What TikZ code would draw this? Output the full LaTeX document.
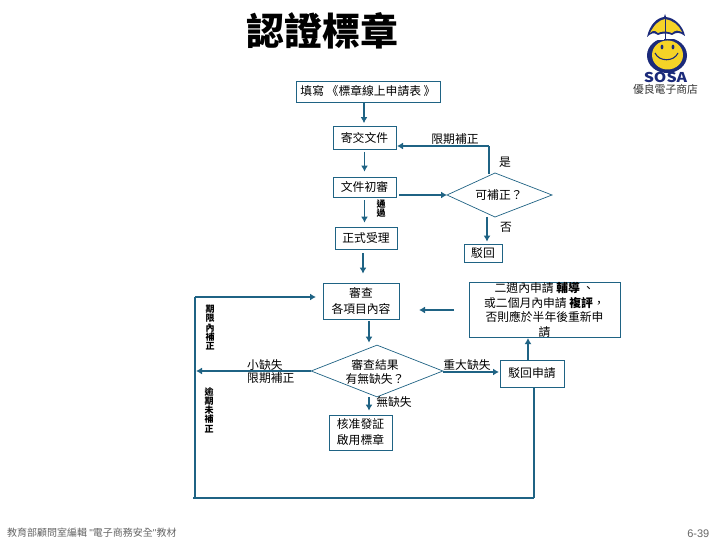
\documentclass[tikz,border=0pt]{standalone}
\usepackage{fontspec}
\setmainfont{Noto Sans CJK TC}
\newfontfamily\latinf{Liberation Sans}
\usetikzlibrary{shapes.geometric,arrows.meta}
\definecolor{flow}{HTML}{1F6384}
\definecolor{logoblue}{HTML}{1B2A7A}
\definecolor{logoyellow}{HTML}{F5D327}
\tikzset{
  flowbox/.style={draw=flow,line width=0.8pt,fill=white,inner sep=0pt,align=center,font=\fontsize{11.8}{16}\selectfont},
  decision/.style={draw=flow,line width=0.7pt},
  lbl/.style={inner sep=0pt,align=center,font=\fontsize{11.8}{13.5}\selectfont},
  vlbl/.style={inner sep=0pt,align=center,font=\fontsize{9}{9.3}\selectfont\bfseries,execute at begin node={\lineskiplimit=-30pt\relax}},
  conn/.style={draw=flow,line width=1.8pt,-{Latex[length=6pt,width=7pt]}},
  plain/.style={draw=flow,line width=1.8pt}
}
\begin{document}
\begin{tikzpicture}[x=1pt,y=-1pt]
\useasboundingbox (0,0) rectangle (720,540);
\fill[white] (0,0) rectangle (720,540);
% title
\node[inner sep=0pt,font=\fontsize{38}{40}\selectfont\bfseries] (title) at (322.5,31) {認證標章};
% boxes
\node[flowbox,minimum width=144pt,minimum height=21pt] (form) at (368,91.5) {填寫 《標章線上申請表 》};
\node[flowbox,minimum width=63pt,minimum height=23pt] (send) at (364.5,138) {寄交文件};
\node[flowbox,minimum width=63pt,minimum height=20pt] (check) at (364.5,187) {文件初審};
\node[flowbox,minimum width=62pt,minimum height=22pt] (accept) at (366,238) {正式受理};
\node[flowbox,minimum width=38pt,minimum height=18pt] (rej) at (483,253) {駁回};
\node[flowbox,minimum width=76pt,minimum height=36pt] (review) at (361,301) {審查\\各項目內容};
\node[flowbox,minimum width=63pt,minimum height=35pt] (ok) at (360.5,432.5) {核准發証\\啟用標章};
\node[flowbox,minimum width=151pt,minimum height=54pt,font=\fontsize{11.8}{14.7}\selectfont] (two) at (544.5,310) {二週內申請 \textbf{輔導} 、\\或二個月內申請 \textbf{複評}，\\否則應於半年後重新申\hspace*{11pt}\\請};
\node[flowbox,minimum width=64pt,minimum height=27pt] (rejapp) at (532,373.5) {駁回申請};
% decisions
\coordinate (q1w) at (447,195);
\coordinate (q1n) at (495,173);
\coordinate (q1e) at (552,195);
\coordinate (q1s) at (495,217);
\draw[decision] (q1w) -- (q1n) -- (q1e) -- (q1s) -- cycle;
\node[lbl] (q1) at (499,195) {可補正？};
\node[decision,diamond,aspect=2.54,minimum width=132pt,minimum height=52pt,inner sep=0pt] (q2) at (377,371) {};
\node[lbl] (q2t) at (375,372) {審查結果\\有無缺失？};
% coordinates
\coordinate (lt) at (195,297);
\coordinate (ltend) at (316,297);
\coordinate (lb) at (195,498);
\coordinate (lbx) at (193,498);
\coordinate (rb) at (534,498);
\coordinate (q1top) at (489,174);
\coordinate (q1turn) at (489,146);
\coordinate (q1low) at (487,217);
\coordinate (sendr) at (397,146);
\coordinate (checkout) at (399,195);
\coordinate (twoin) at (454,310);
\coordinate (twoout) at (419,310);
\coordinate (q2out) at (443,372);
\coordinate (rejin) at (499,372);
\coordinate (q2l) at (311,371);
\coordinate (lin) at (196,371);
\coordinate (q2low) at (369,397);
% connectors
\draw[conn,shorten >=3pt] (form.south -| 364,0) -- (send.north -| 364,0);
\draw[conn,shorten >=5pt,shorten <=2pt] (send) -- (check);
\draw[conn,shorten >=4pt,shorten <=3pt] (check.south -| 364.5,0) -- (accept.north -| 364.5,0);
\draw[conn,shorten >=9pt,shorten <=4pt] (accept.south -| 363,0) -- (review.north -| 363,0);
\draw[conn,shorten >=2pt,shorten <=2pt] (review.south -| 369,0) -- (q2.north -| 369,0);
\draw[conn,shorten >=4pt] (q2low) -- (ok.north -| q2low);
\draw[conn] (checkout) -- (q1w);
\draw[plain] (q1top) -- (q1turn);
\draw[conn] (q1turn) -- (sendr);
\draw[conn,shorten >=2pt] (q1low) -- (rej.north -| q1low);
\draw[conn] (q2out) -- (rejin);
\draw[conn] (rejapp.north -| 528,0) -- (two.south -| 528,0);
\draw[conn] (twoin) -- (twoout);
\draw[conn] (q2l) -- (lin);
\draw[plain] (lb) -- (lt);
\draw[conn] (lt) -- (ltend);
\draw[plain] (lbx) -- (rb);
\draw[plain] (rb) -- (rejapp.south -| rb);
% labels
\node[lbl] (l1) at (455,139) {限期補正};
\node[lbl] (l2) at (505,162) {是};
\node[lbl] (l3) at (506,227) {否};
\node[lbl,align=left,anchor=west] (l4) at (247,371.5) {小缺失\\限期補正};
\node[lbl] (l5) at (467,365) {重大缺失};
\node[lbl] (l6) at (394,402) {無缺失};
\node[vlbl] (l7) at (381,208.5) {通\\過};
\node[vlbl] (l8) at (210,327.5) {期\\限\\內\\補\\正};
\node[vlbl] (l9) at (209,410) {逾\\期\\未\\補\\正};
% footer
\node[inner sep=0pt,anchor=west,text=black!60,font=\fontsize{10}{12}\selectfont] (foot) at (7,532.5) {教育部顧問室編輯 {\latinf "}電子商務安全{\latinf "}教材};
\node[inner sep=0pt,anchor=east,text=black!60,font=\latinf\fontsize{11}{12}\selectfont] (page) at (709.5,534) {6-39};
% logo
\fill[logoblue] (667,55.5) ellipse (20 and 17.5);
\fill[logoyellow] (667.5,55) ellipse (15.5 and 14.5);
\fill[white] (645,33) rectangle (664,40);
\fill[white] (664,36) rectangle (690,39);
\fill[logoblue] (647,37) .. controls (650,24) and (657,18) .. (664,17) -- (665,14) -- (666,17) .. controls (675,18) and (683,26) .. (685,36) .. controls (680,32) and (676,32) .. (672,35) .. controls (669,33) and (661,33) .. (658,35) .. controls (654,32) and (651,33) .. (647,37) -- cycle;
\fill[logoyellow] (650,33) .. controls (654,25) and (659,20) .. (665,19) .. controls (672,20) and (679,25) .. (682,32) .. controls (678,30) and (675,30) .. (672,33) .. controls (668,31) and (661,31) .. (658,33) .. controls (655,30) and (653,30) .. (650,33) -- cycle;
\draw[logoblue,line width=1pt] (665,19) -- (665,39);
\fill[logoblue] (662,47) ellipse (1.4 and 2.4) (673,47) ellipse (1.4 and 2.4);
\draw[logoblue,line width=1.1pt] (655,53) .. controls (659,62) and (674,62) .. (678,53);
\node[inner sep=0pt,text=logoblue,xscale=1.18,font=\fontsize{13.5}{13.5}\selectfont\bfseries] (sosa) at (665.5,77) {SOSA};
\node[inner sep=0pt,text=black!80,font=\fontsize{10.8}{11}\selectfont] (shop) at (665.5,89.5) {優良電子商店};
\end{tikzpicture}
\end{document}
